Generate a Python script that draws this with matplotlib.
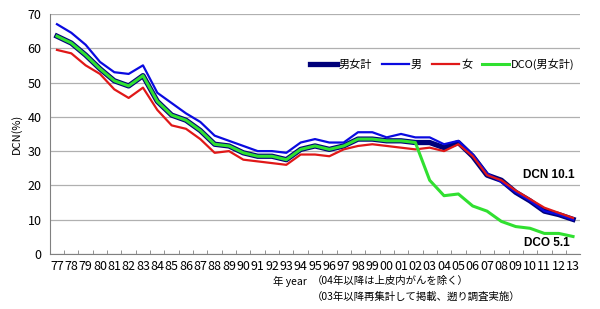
import matplotlib.pyplot as plt

plt.rcParams['font.family'] = ['Noto Sans CJK JP', 'DejaVu Sans']

years = ["77", "78", "79", "80", "81", "82", "83", "84", "85", "86", "87", "88",
         "89", "90", "91", "92", "93", "94", "95", "96", "97", "98", "99", "00",
         "01", "02", "03", "04", "05", "06", "07", "08", "09", "10", "11", "12", "13"]

total = [63.5, 61.5, 58, 54, 50.5, 49, 52, 44.5, 40.5, 39, 36, 32,
         31.5, 29.5, 28.5, 28.5, 27.5, 30.5, 31.5, 30.5, 31.5, 33.5, 33.5, 33,
         33, 32.5, 32.5, 31, 32.5, 28.5, 23, 21.5, 18, 15.5, 12.5, 11.5, 10.1]
male = [67, 64.5, 61, 56, 53, 52.5, 55, 47, 44, 41, 38.5, 34.5,
        33, 31.5, 30, 30, 29.5, 32.5, 33.5, 32.5, 32.5, 35.5, 35.5, 34,
        35, 34, 34, 32, 33, 29, 23.5, 21, 18, 15.5, 12.5, 11.5, 10]
female = [59.5, 58.5, 55, 52.5, 48, 45.5, 48.5, 42, 37.5, 36.5, 33.5, 29.5,
          30, 27.5, 27, 26.5, 26, 29, 29, 28.5, 30.5, 31.5, 32, 31.5,
          31, 30.5, 31, 30, 32, 28.5, 23, 21.5, 18.5, 16, 13.5, 12, 10.5]
dco = [63.5, 61.5, 58, 54, 50.5, 49, 52, 44.5, 40.5, 39, 36, 32,
       31.5, 29.5, 28.5, 28.5, 27.5, 30.5, 31.5, 30.5, 31.5, 33.5, 33.5, 33,
       33, 32.5, 21.5, 17, 17.5, 14, 12.5, 9.5, 8, 7.5, 6, 6, 5.1]

x = list(range(len(years)))

fig = plt.figure(figsize=(6, 3.09), dpi=100)
ax = fig.add_axes([0.083, 0.178, 0.884, 0.777])

ax.plot(x, total, color="#00007A", linewidth=3.8, label="男女計")
ax.plot(x, male, color="#0A0AE0", linewidth=1.6, label="男")
ax.plot(x, female, color="#E01818", linewidth=1.6, label="女")
ax.plot(x, dco, color="#30E030", linewidth=2.2, label="DCO(男女計)")

ax.set_xlim(-0.5, len(years) - 0.5)
ax.set_ylim(0, 70)
ax.set_yticks(range(0, 71, 10))
ax.set_xticks(x)
ax.set_xticklabels(years)
ax.set_xticks([i + 0.5 for i in range(len(years) - 1)], minor=True)
ax.tick_params(axis="x", which="major", length=0, labelsize=9, pad=4)
ax.tick_params(axis="x", which="minor", direction="in", length=3, color="#808080")
ax.tick_params(axis="y", length=0, labelsize=9, pad=6)

ax.grid(axis="y", color="#B0B0B0", linewidth=0.9)
ax.set_axisbelow(True)
for s in ["top", "right"]:
    ax.spines[s].set_visible(False)
ax.spines["left"].set_color("#808080")
ax.spines["bottom"].set_color("#808080")

ax.set_ylabel("DCN(%)", fontsize=8, labelpad=4)

leg = ax.legend(loc="center", bbox_to_anchor=(0.74, 0.79), ncol=4, frameon=False,
                fontsize=8, handlelength=2.4, columnspacing=0.9, handletextpad=0.2)

ax.text(0.99, 0.33, "DCN 10.1", transform=ax.transAxes, ha="right", va="center",
        fontsize=8.5, fontweight="bold", family="Liberation Sans")
ax.text(0.98, 0.045, "DCO 5.1", transform=ax.transAxes, ha="right", va="center",
        fontsize=8.5, fontweight="bold", family="Liberation Sans")

fig.text(0.483, 0.09, "年 year", ha="center", va="center", fontsize=7.5)
fig.text(0.52, 0.09, "（04年以降は上皮内がんを除く）", ha="left", va="center", fontsize=7.5)
fig.text(0.52, 0.038, "（03年以降再集計して掲載、遡り調査実施）", ha="left", va="center", fontsize=7.5)

plt.savefig("out.png", dpi=100)
